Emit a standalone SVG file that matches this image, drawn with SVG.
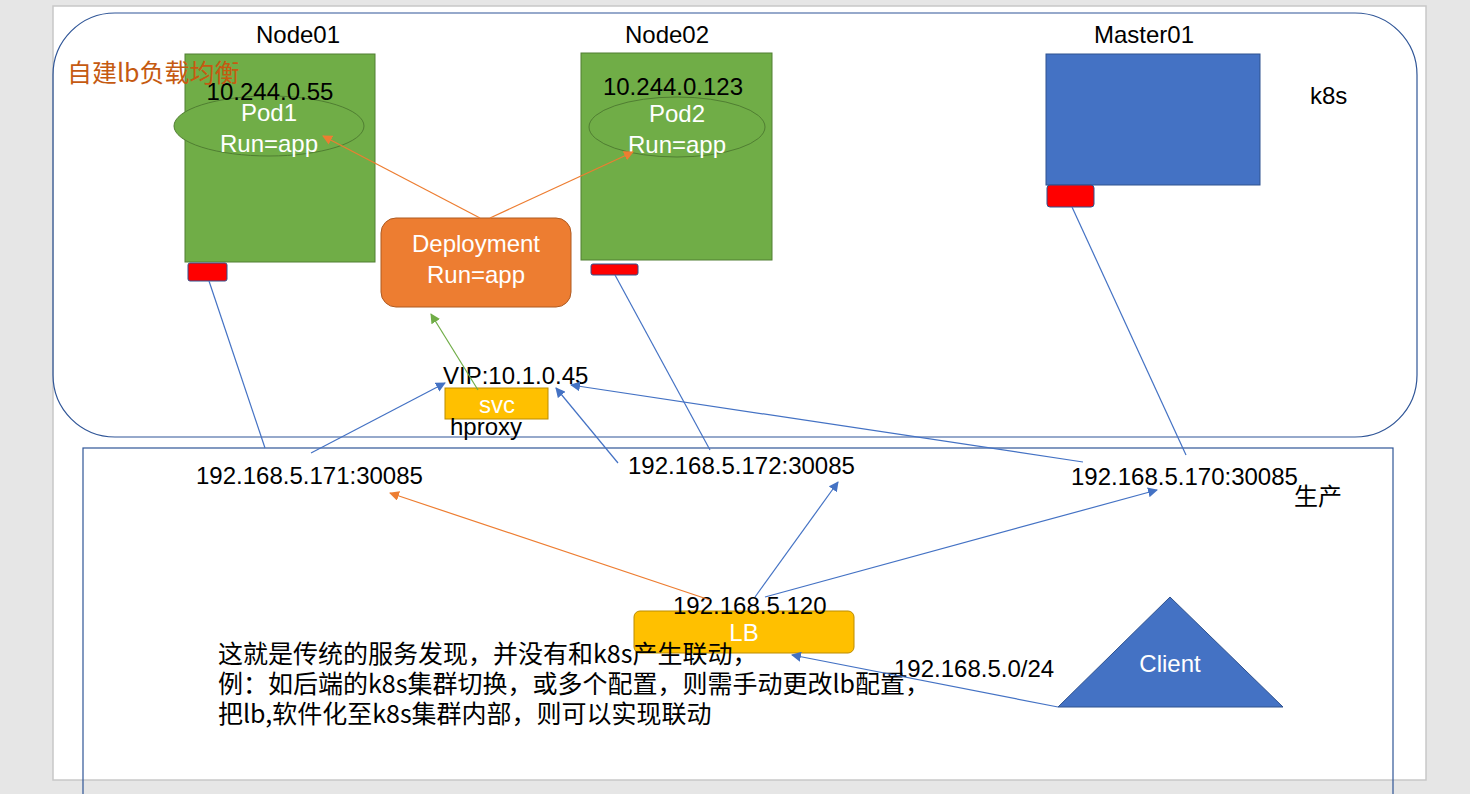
<svg xmlns="http://www.w3.org/2000/svg" width="1470" height="794" viewBox="0 0 1470 794">
<defs>
<style>
.t{font-family:"Liberation Sans","Noto Sans CJK SC",sans-serif;font-size:24px;fill:#000}
.w{fill:#fff}
.c{text-anchor:middle}
.zh{font-family:"Noto Sans CJK SC","Liberation Sans",sans-serif;font-size:25px}
.lb{stroke:#4472c4;stroke-width:1.2;fill:none}
.lo{stroke:#ed7d31;stroke-width:1.2;fill:none}
.lg{stroke:#70ad47;stroke-width:1.2;fill:none}
.red{fill:#ff0000;stroke:#2f528f;stroke-width:1}
</style>
<marker id="ab" viewBox="0 0 10 10" refX="9" refY="5" markerWidth="10" markerHeight="10" markerUnits="userSpaceOnUse" orient="auto"><path d="M0,0 L10,5 L0,10 z" fill="#4472c4"/></marker>
<marker id="ao" viewBox="0 0 10 10" refX="9" refY="5" markerWidth="10" markerHeight="10" markerUnits="userSpaceOnUse" orient="auto"><path d="M0,0 L10,5 L0,10 z" fill="#ed7d31"/></marker>
<marker id="ag" viewBox="0 0 10 10" refX="9" refY="5" markerWidth="10" markerHeight="10" markerUnits="userSpaceOnUse" orient="auto"><path d="M0,0 L10,5 L0,10 z" fill="#70ad47"/></marker>
</defs>
<rect x="0" y="0" width="1470" height="794" fill="#e6e6e6"/>
<rect x="53" y="6" width="1373" height="774" fill="#fff" stroke="#c8c8c8" stroke-width="1.5"/>

<g id="k8s-cluster">
<rect x="53" y="13" width="1364" height="424" rx="62" ry="62" fill="none" stroke="#2f5597" stroke-width="1.2"/>
<text class="t" x="1310" y="104">k8s</text>
</g>
<g id="production">
<rect x="83" y="448" width="1310" height="360" fill="none" stroke="#2f5597" stroke-width="1.2"/>
<text class="t zh" x="1294" y="505" style="font-size:24px">生产</text>
</g>

<g id="node01">
<text class="t c" x="298" y="43">Node01</text>
<rect x="185" y="54" width="190" height="208" fill="#70ad47" stroke="#507e32"/>
<rect class="red" x="188" y="263" width="39" height="18" rx="2"/>
</g>
<g id="pod1">
<ellipse cx="269" cy="126" rx="95" ry="30" fill="#70ad47" stroke="#507e32"/>
<text class="t c" x="270" y="100">10.244.0.55</text>
<text class="t c w" x="269" y="121">Pod1</text>
<text class="t c w" x="269" y="152">Run=app</text>
</g>
<g id="title">
<text class="t zh" x="67" y="82" style="fill:#c55a11">自建lb负载均衡</text>
</g>
<g id="node02">
<text class="t c" x="667" y="43">Node02</text>
<rect x="581" y="53" width="191" height="207" fill="#70ad47" stroke="#507e32"/>
<rect class="red" x="591" y="264" width="47" height="11" rx="2"/>
</g>
<g id="pod2">
<ellipse cx="677" cy="127" rx="88" ry="30" fill="#70ad47" stroke="#507e32"/>
<text class="t c" x="673" y="95">10.244.0.123</text>
<text class="t c w" x="677" y="122">Pod2</text>
<text class="t c w" x="677" y="153">Run=app</text>
</g>
<g id="master01">
<text class="t c" x="1144" y="43">Master01</text>
<rect x="1046" y="54" width="214" height="131" fill="#4472c4" stroke="#2f528f"/>
<rect class="red" x="1047" y="185" width="47" height="22" rx="3"/>
</g>
<g id="deployment">
<rect x="381" y="218" width="190" height="89" rx="15" ry="15" fill="#ed7d31" stroke="#ae5a21"/>
<text class="t c w" x="476" y="252">Deployment</text>
<text class="t c w" x="476" y="283">Run=app</text>
</g>
<g id="svc">
<text class="t" x="443" y="384">VIP:10.1.0.45</text>
<rect x="445" y="388" width="103" height="31" fill="#ffc000" stroke="#bc8c00"/>
<text class="t c w" x="497" y="413">svc</text>
<text class="t" x="450" y="435">hproxy</text>
</g>
<g id="lb">
<rect x="634" y="611" width="220" height="42" rx="6" ry="6" fill="#ffc000" stroke="#bc8c00"/>
<text class="t c w" x="744" y="641">LB</text>
<text class="t" x="673" y="614">192.168.5.120</text>
</g>
<g id="client">
<polygon points="1170,597 1283,707 1058,707" fill="#4472c4" stroke="#2f528f"/>
<text class="t c w" x="1170" y="672">Client</text>
</g>
<g id="labels">
<text class="t" x="196" y="484">192.168.5.171:30085</text>
<text class="t" x="628" y="474">192.168.5.172:30085</text>
<text class="t" x="1071" y="485">192.168.5.170:30085</text>
<text class="t" x="894" y="677">192.168.5.0/24</text>
<text class="t zh" x="218" y="663">这就是传统的服务发现，并没有和k8s产生联动，</text>
<text class="t zh" x="218" y="693">例：如后端的k8s集群切换，或多个配置，则需手动更改lb配置，</text>
<text class="t zh" x="218" y="723">把lb,软件化至k8s集群内部，则可以实现联动</text>
</g>

<g id="connectors">
<line class="lo" x1="480" y1="218" x2="323" y2="136" marker-end="url(#ao)"/>
<line class="lo" x1="490" y1="218" x2="633" y2="152" marker-end="url(#ao)"/>
<line class="lg" x1="478" y1="390" x2="431" y2="314" marker-end="url(#ag)"/>
<line class="lb" x1="209" y1="281" x2="265" y2="448"/>
<line class="lb" x1="311" y1="453" x2="445" y2="383" marker-end="url(#ab)"/>
<line class="lb" x1="615" y1="275" x2="710" y2="450"/>
<line class="lb" x1="618" y1="463" x2="556" y2="388" marker-end="url(#ab)"/>
<line class="lb" x1="1072" y1="207" x2="1186" y2="455"/>
<line class="lb" x1="1083" y1="462" x2="571" y2="385" marker-end="url(#ab)"/>
<line class="lo" x1="710" y1="600" x2="390" y2="493" marker-end="url(#ao)"/>
<line class="lb" x1="755" y1="597" x2="838" y2="482" marker-end="url(#ab)"/>
<line class="lb" x1="765" y1="597" x2="1157" y2="490" marker-end="url(#ab)"/>
<line class="lb" x1="1058" y1="707" x2="792" y2="655" marker-end="url(#ab)"/>
</g>
</svg>
